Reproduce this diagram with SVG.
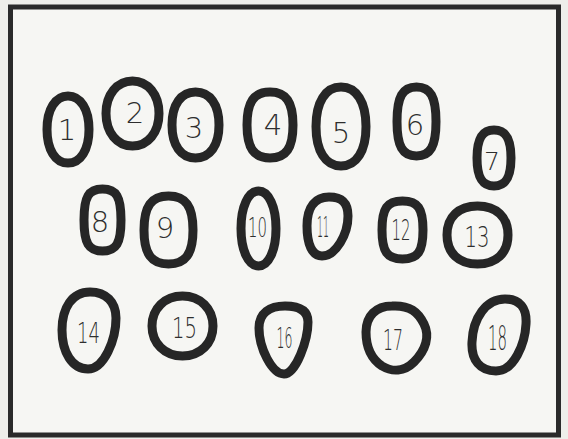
<svg xmlns="http://www.w3.org/2000/svg" width="568" height="439" viewBox="0 0 568 439">
<style>
.ring{fill:#f6f6f3;stroke:#262626;stroke-width:9;stroke-linejoin:round}
.lbl{font-family:"DejaVu Sans","Liberation Sans",Arial,sans-serif;font-weight:200;font-size:29px;fill:#2e2e2e;text-anchor:middle}
</style>
<rect x="0" y="0" width="568" height="439" fill="#eeeeea"/>
<rect id="frame" x="10.5" y="7" width="548" height="428" fill="#f6f6f3" stroke="#2a2a2a" stroke-width="5"/>
<g id="connectors"/>
<g id="n1"><path class="ring" d="M68,96 C80.6,96 89,109.4 89,129.5 C89,149.6 80.6,163 68,163 C55.4,163 47,149.6 47,129.5 C47,109.4 55.4,96 68,96Z"/><text class="lbl" x="67" y="140">1</text></g>
<g id="n2"><path class="ring" d="M132.5,81 C147.9,81 159,94.6 159,113.5 C159,132.4 147.9,146 132.5,146 C117.1,146 106,132.4 106,113.5 C106,94.6 117.1,81 132.5,81Z"/><text class="lbl" x="135" y="123">2</text></g>
<g id="n3"><path class="ring" d="M195.5,92 C210.1,92 219,104.5 219,125 C219,145.5 210.1,158 195.5,158 C180.9,158 172,145.5 172,125 C172,104.5 180.9,92 195.5,92Z"/><text class="lbl" x="194" y="138">3</text></g>
<g id="n4"><path class="ring" d="M270,92 C286.1,92 293,101.9 293,125 C293,148.1 286.1,158 270,158 C253.9,158 247,148.1 247,125 C247,101.9 253.9,92 270,92Z"/><text class="lbl" x="273" y="135">4</text></g>
<g id="n5"><path class="ring" d="M341,87 C356.5,87 366,102 366,126.5 C366,151 356.5,166 341,166 C325.5,166 316,151 316,126.5 C316,102 325.5,87 341,87Z"/><text class="lbl" x="341" y="143">5</text></g>
<g id="n6"><path class="ring" d="M416.5,87 C430.5,87 436,96.7 436,121.5 C436,146.3 430.5,156 416.5,156 C402.5,156 397,146.3 397,121.5 C397,96.7 402.5,87 416.5,87Z"/><text class="lbl" x="415" y="135">6</text></g>
<g id="n7"><path class="ring" d="M494,130 C505.9,130 511,138.4 511,158 C511,177.6 505.9,186 494,186 C482.1,186 477,177.6 477,158 C477,138.4 482.1,130 494,130Z"/><text class="lbl" x="492" y="170" style="font-size:25px">7</text></g>
<g id="n8"><path class="ring" d="M102.5,189 C116.4,189 121,196.7 121,220 C121,243.3 116.4,251 102.5,251 C88.6,251 84,243.3 84,220 C84,196.7 88.6,189 102.5,189Z"/><text class="lbl" x="100" y="232">8</text></g>
<g id="n9"><path class="ring" d="M168.5,196 C185.7,196 193,206.2 193,230 C193,253.8 185.7,264 168.5,264 C151.3,264 144,253.8 144,230 C144,206.2 151.3,196 168.5,196Z"/><text class="lbl" x="165" y="238">9</text></g>
<g id="n10"><path class="ring" d="M258.5,191 C268.7,191 276,206.7 276,228.5 C276,250.3 268.7,266 258.5,266 C248.3,266 241,250.3 241,228.5 C241,206.7 248.3,191 258.5,191Z"/><text class="lbl" x="257.5" y="237" style="font-size:26px" textLength="19" lengthAdjust="spacingAndGlyphs">10</text></g>
<g id="n11"><path class="ring" d="M329,197 C342,197 348,203 348,216 C348,234 336,256 322,256 C312,256 307,244 307,226 C307,206 316,197 329,197Z"/><text class="lbl" x="323" y="237" textLength="12" lengthAdjust="spacingAndGlyphs">11</text></g>
<g id="n12"><path class="ring" d="M402.5,201 C417.9,201 423,208.2 423,230 C423,251.8 417.9,259 402.5,259 C387.1,259 382,251.8 382,230 C382,208.2 387.1,201 402.5,201Z"/><text class="lbl" x="401" y="240" textLength="19" lengthAdjust="spacingAndGlyphs">12</text></g>
<g id="n13"><path class="ring" d="M477.5,206 C496.4,206 508,217 508,235 C508,253 496.4,264 477.5,264 C458.6,264 447,253 447,235 C447,217 458.6,206 477.5,206Z"/><text class="lbl" x="477" y="247" textLength="25" lengthAdjust="spacingAndGlyphs">13</text></g>
<g id="n14"><path class="ring" d="M90,292 C106,292 116,302 116,318 C116,340 104,369 88,369 C72,369 62,352 62,330 C62,308 72,292 90,292Z"/><text class="lbl" x="88.5" y="343" textLength="23" lengthAdjust="spacingAndGlyphs">14</text></g>
<g id="n15"><path class="ring" d="M182.5,296 C200.2,296 213,308.6 213,326 C213,343.4 200.2,356 182.5,356 C164.8,356 152,343.4 152,326 C152,308.6 164.8,296 182.5,296Z"/><text class="lbl" x="184.5" y="338" style="font-size:28px" textLength="25" lengthAdjust="spacingAndGlyphs">15</text></g>
<g id="n16"><path class="ring" d="M285,306 C300,306 308,311 308,322 C308,340 296,374 284,374 C272,374 259,348 259,328 C259,313 270,306 285,306Z"/><text class="lbl" x="284.5" y="348" style="font-size:28px" textLength="16" lengthAdjust="spacingAndGlyphs">16</text></g>
<g id="n17"><path class="ring" d="M392,306 C410,305 418,312 424,324 C430,336 426,350 414,362 C404,372 392,372 382,366 C370,358 366,346 366,332 C366,316 376,306 392,306Z"/><text class="lbl" x="393" y="350" textLength="20" lengthAdjust="spacingAndGlyphs">17</text></g>
<g id="n18"><path class="ring" d="M505,299 C520,299 527,308 526,324 C525,344 514,371 496,371 C480,371 471,360 472,342 C473,318 486,299 505,299Z"/><text class="lbl" x="497.5" y="350" style="font-size:33px" textLength="19" lengthAdjust="spacingAndGlyphs">18</text></g>
</svg>
